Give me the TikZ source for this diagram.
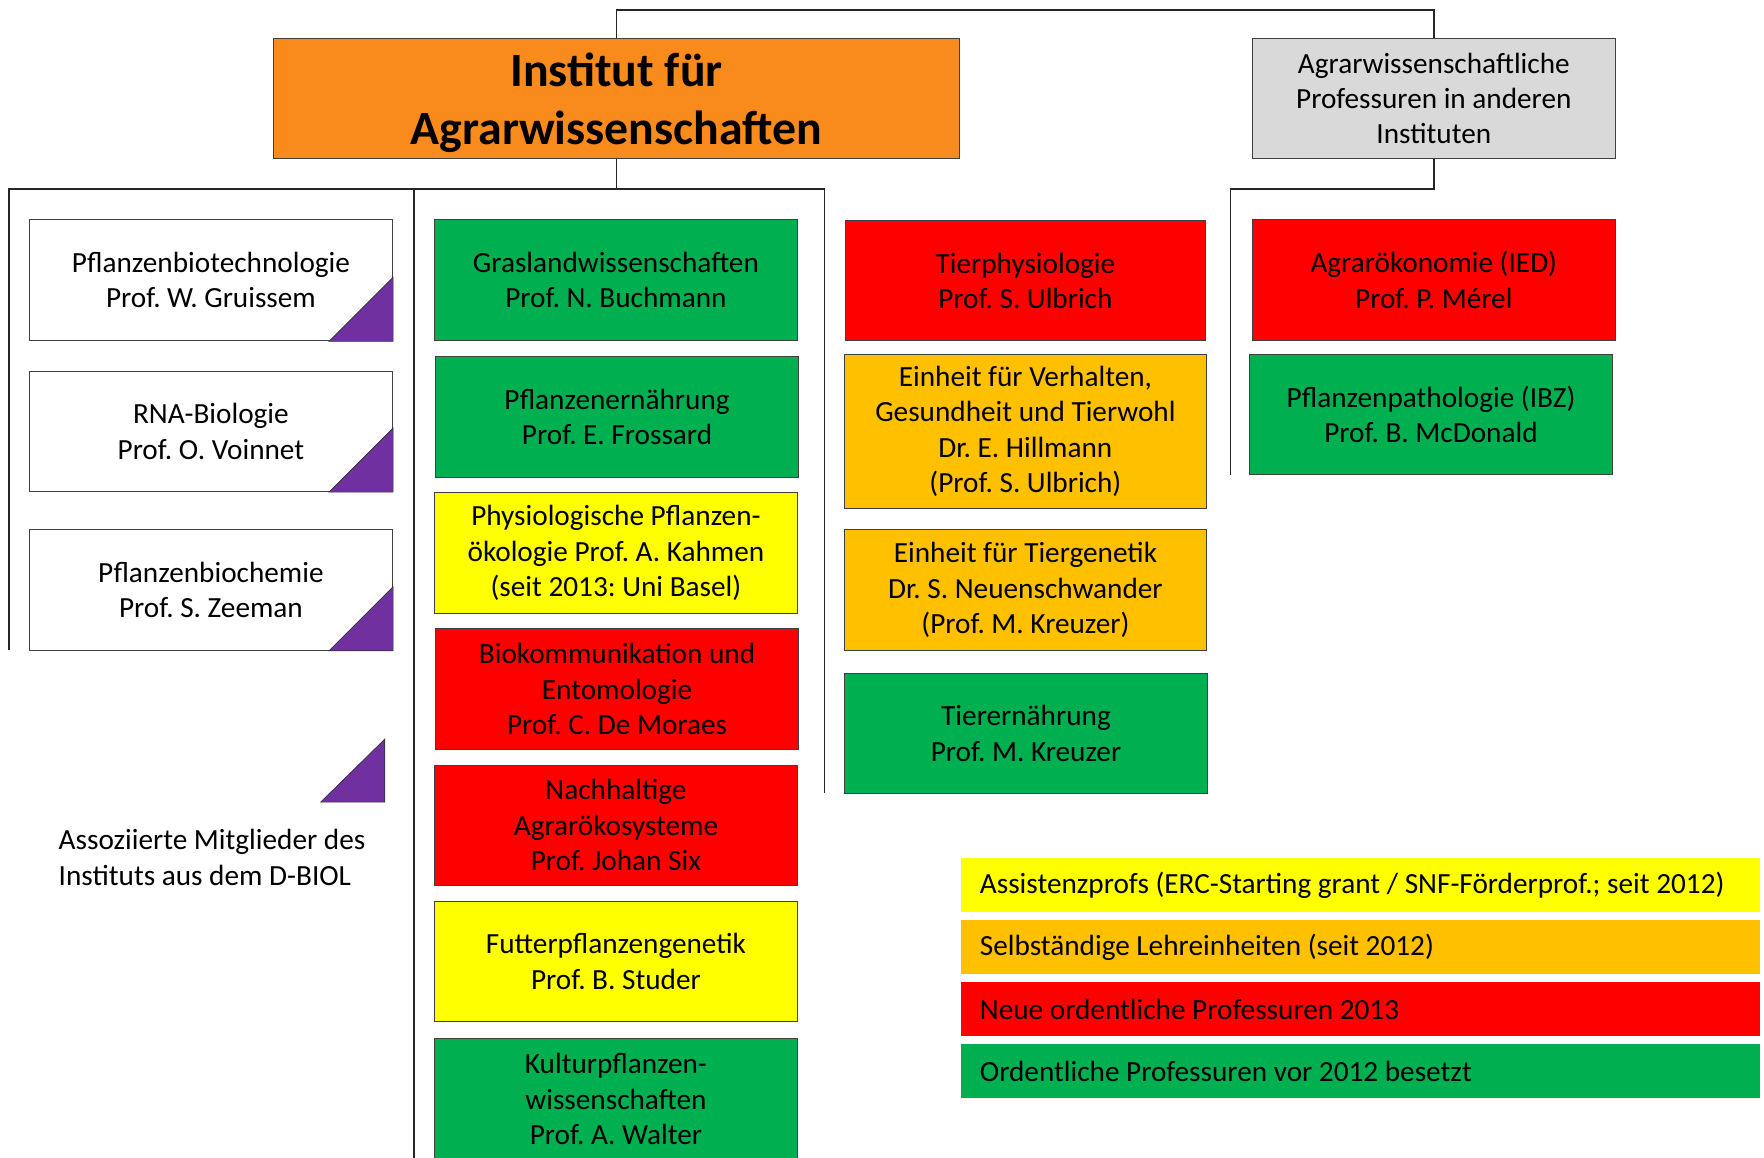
\documentclass[tikz,border=0pt]{standalone}
\usepackage{fontspec}
\setmainfont{Carlito}
\frenchspacing
\definecolor{cOrange}{HTML}{F98A1C}
\definecolor{cGray}{HTML}{D9D9D9}
\definecolor{cGreen}{HTML}{00B050}
\definecolor{cRed}{HTML}{FF0000}
\definecolor{cYellow}{HTML}{FFFF00}
\definecolor{cAmber}{HTML}{FFC000}
\definecolor{cPurple}{HTML}{7030A0}
\begin{document}
\begin{tikzpicture}[x=1pt,y=-1pt,
  box/.style={draw=black!75,line width=0.9pt,align=center,inner sep=0pt,
    font=\fontsize{26}{31.5}\selectfont,minimum width=323pt,minimum height=107pt},
  legbox/.style={fill=#1,minimum width=710pt,minimum height=48pt,inner sep=0pt},
  legtext/.style={anchor=west,inner sep=0pt,font=\fontsize{26}{31.5}\selectfont},
  conn/.style={line width=1.2pt,black!85},
  tri/.style={fill=cPurple,draw=black!80,line width=0.6pt}]
\useasboundingbox (0,0) rectangle (1568,1029);
% head boxes
\node[box,fill=cOrange,minimum width=610pt] (inst) at (548,87.5) {};
\node[align=center,inner sep=0pt,font=\fontsize{42.5}{52}\bfseries\selectfont] (insttext) at ([yshift=-4pt]inst.center) {Institut für\\Agrarwissenschaften};
\node[box,fill=cGray] (other) at (1274.5,87.5) {Agrarwissenschaftliche\\Professuren in anderen\\Instituten};
% left column
\node[box,fill=white,minimum height=108pt] (b1) at (187.5,249) {Pflanzenbiotechnologie\\Prof. W. Gruissem};
\node[box,fill=white] (b2) at (187.5,383.5) {RNA-Biologie\\Prof. O. Voinnet};
\node[box,fill=white] (b3) at (187.5,524.5) {Pflanzenbiochemie\\Prof. S. Zeeman};
\foreach \b in {b1,b2,b3}{
  \filldraw[tri] (\b.south east) -- ([xshift=-57pt]\b.south east) -- ([yshift=57pt]\b.south east) -- cycle;}
% legend for associated members
\coordinate (lt) at (342,713);
\filldraw[tri] (lt) -- ([xshift=-57pt]lt) -- ([yshift=56pt]lt) -- cycle;
\node[anchor=west,align=left,inner sep=0pt,font=\fontsize{26}{31.5}\selectfont] (assoc) at (52,762) {Assoziierte Mitglieder des\\Instituts aus dem D-BIOL};
% column 2
\node[box,fill=cGreen,minimum height=108pt] (c1) at (547.5,249) {Graslandwissenschaften\\Prof. N. Buchmann};
\node[box,fill=cGreen] (c2) at (548.5,370.5) {Pflanzenernährung\\Prof. E. Frossard};
\node[box,fill=cYellow] (c3) at (547.5,491.5) {Physiologische Pflanzen-\\ökologie Prof. A. Kahmen\\(seit 2013: Uni Basel)};
\node[box,fill=cRed] (c4) at (548.5,612.5) {Biokommunikation und\\Entomologie\\Prof. C. De Moraes};
\node[box,fill=cRed] (c5) at (547.5,733.5) {Nachhaltige\\Agrarökosysteme\\Prof. Johan Six};
\node[box,fill=cYellow] (c6) at (547.5,854.5) {Futterpflanzengenetik\\Prof. B. Studer};
\node[box,fill=cGreen,minimum height=108pt] (c7) at (547.5,977) {Kulturpflanzen-\\wissenschaften\\Prof. A. Walter};
% column 3
\node[box,fill=cRed,minimum width=320pt] (d1) at (911.5,249.5) {Tierphysiologie\\Prof. S. Ulbrich};
\node[box,fill=cAmber,minimum width=321pt,minimum height=137pt] (d2) at (911.5,383.5) {Einheit für Verhalten,\\Gesundheit und Tierwohl\\Dr. E. Hillmann\\(Prof. S. Ulbrich)};
\node[box,fill=cAmber,minimum width=321pt] (d3) at (911.5,524.5) {Einheit für Tiergenetik\\Dr. S. Neuenschwander\\(Prof. M. Kreuzer)};
\node[box,fill=cGreen,minimum width=322pt,minimum height=106pt] (d4) at (912,652) {Tierernährung\\Prof. M. Kreuzer};
% column 4
\node[box,fill=cRed,minimum height=108pt] (e1) at (1274.5,249) {Agrarökonomie (IED)\\Prof. P. Mérel};
\node[box,fill=cGreen,minimum width=322pt] (e2) at (1272,368.5) {Pflanzenpathologie (IBZ)\\Prof. B. McDonald};
% connectors
\coordinate (top) at (0,9);
\coordinate (bar) at (0,168);
\coordinate (lA) at (8,168);   \coordinate (lAe) at (8,578);
\coordinate (lB) at (368,168); \coordinate (lBe) at (368,1029);
\coordinate (lC) at (733,168); \coordinate (lCe) at (733,705);
\coordinate (lD) at (1094,168); \coordinate (lDe) at (1094,422);
\draw[conn] (inst.north) -- (inst.north |- top) -| (other.north);
\draw[conn] (inst.south) -- (inst.south |- bar);
\draw[conn] (lAe) -- (lA) -- (lC) -- (lCe);
\draw[conn] (lB) -- (lBe);
\draw[conn] (other.south) -- (other.south |- bar) -- (lD) -- (lDe);
% colour legend
\node[legbox=cYellow] (g1) at (1209,787) {};
\node[legbox=cAmber] (g2) at (1209,842) {};
\node[legbox=cRed] (g3) at (1209,897) {};
\node[legbox=cGreen] (g4) at (1209,952) {};
\node[legtext] (t1) at ([xshift=17pt]g1.west) {Assistenzprofs (ERC-Starting grant / SNF-Förderprof.; seit 2012)};
\node[legtext] (t2) at ([xshift=17pt]g2.west) {Selbständige Lehreinheiten (seit 2012)};
\node[legtext] (t3) at ([xshift=17pt]g3.west) {Neue ordentliche Professuren 2013};
\node[legtext] (t4) at ([xshift=17pt]g4.west) {Ordentliche Professuren vor 2012 besetzt};
\end{tikzpicture}
\end{document}
